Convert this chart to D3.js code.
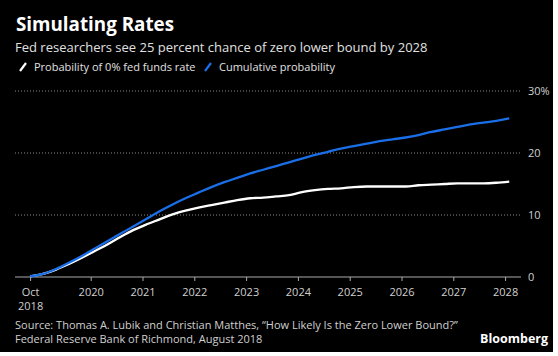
<!DOCTYPE html>
<html><head><meta charset="utf-8">
<script src="https://cdn.jsdelivr.net/npm/d3@7/dist/d3.min.js"></script>
<style>
html,body{margin:0;padding:0;background:#fff;}
svg{display:block;}
text{font-family:"Open Sans","Noto Sans",sans-serif;}
</style></head>
<body>
<svg id="chart" width="558" height="356"></svg>
<script>
// Quarterly points, starting Q4 2018 (fractional year)
const startYear = 2018.83;
const probZero = [0.1,0.5,1.2,2.1,3.1,4.2,5.3,6.5,7.6,8.5,9.3,10.1,10.7,11.2,11.6,12.0,12.4,12.7,12.8,13.0,13.2,13.7,14.0,14.2,14.3,14.5,14.6,14.6,14.6,14.6,14.8,14.9,15.0,15.1,15.1,15.1,15.2,15.4];
const cumulative = [0.1,0.5,1.3,2.3,3.4,4.6,5.8,7.0,8.2,9.4,10.6,11.7,12.7,13.6,14.5,15.3,16.0,16.7,17.3,17.9,18.5,19.1,19.7,20.2,20.7,21.1,21.5,21.9,22.2,22.5,22.9,23.4,23.8,24.2,24.6,24.9,25.2,25.6];
const xTickValues = [2018.83,2020,2021,2022,2023,2024,2025,2026,2027,2028];
const xTickLabels = [["Oct","2018"],["2020"],["2021"],["2022"],["2023"],["2024"],["2025"],["2026"],["2027"],["2028"]];
const yTickValues = [0,10,20,30];
const yTickLabels = ["0","10","20","30%"];
const seriesNames = ["Probability of 0% fed funds rate","Cumulative probability"];
const seriesColors = ["#ffffff","#1a6fe8"];

const svg = d3.select("#chart");
svg.append("rect").attr("x",0).attr("y",0).attr("width",553).attr("height",352).attr("fill","#000");

const x = d3.scaleLinear().domain([2020,2028]).range([90.7,505.1]);
const y = d3.scaleLinear().domain([0,30]).range([277,91]);
const left = 15, right = 521;

// gridlines
svg.append("g").selectAll("line").data(yTickValues.filter(v=>v>0)).join("line")
  .attr("x1",left).attr("x2",right).attr("y1",d=>y(d)).attr("y2",d=>y(d))
  .attr("stroke","#8a8a8a").attr("stroke-width",1).attr("stroke-dasharray","1,2");

// y labels
svg.append("g").selectAll("text").data(yTickValues).join("text")
  .attr("x",528).attr("y",d=>y(d)).attr("dy","0.35em")
  .attr("fill","#d0d0d0").attr("font-size",11).text((d,i)=>yTickLabels[i]);

// x axis
const xAxis = d3.axisBottom(x).tickValues(xTickValues).tickSize(4).tickFormat("");
const gx = svg.append("g").attr("transform",`translate(0,${y(0)})`).call(xAxis);
gx.select(".domain").remove();
gx.selectAll(".tick line").attr("stroke","#aaa");
svg.append("line").attr("x1",left).attr("x2",right).attr("y1",y(0)).attr("y2",y(0)).attr("stroke","#aaa").attr("stroke-width",1);
gx.selectAll(".tick").each(function(d,i){
  const t = d3.select(this).append("text").attr("fill","#d0d0d0").attr("font-size",11)
    .attr("text-anchor","middle").attr("y",19);
  xTickLabels[i].forEach((s,j)=>t.append("tspan").attr("x",0).attr("dy",j?14:0).text(s));
});

// lines
const pts = arr => arr.map((v,i)=>[startYear+0.25*i, v]);
const line = d3.line().x(d=>x(d[0])).y(d=>y(d[1])).curve(d3.curveMonotoneX);
[probZero,cumulative].forEach((arr,k)=>{
  svg.append("path").datum(pts(arr)).attr("d",line).attr("fill","none")
    .attr("stroke",seriesColors[k]).attr("stroke-width",2.3).attr("stroke-linejoin","round");
});

// title & subtitle
svg.append("text").attr("x",16).attr("y",31).attr("fill","#fff").attr("font-size",18.8).attr("font-weight","bold").text("Simulating Rates");
svg.append("text").attr("x",15).attr("y",52).attr("fill","#e0e0e0").attr("font-size",13).text("Fed researchers see 25 percent chance of zero lower bound by 2028");

// legend
const legX = [20,205];
seriesNames.forEach((n,k)=>{
  const g = svg.append("g").attr("transform",`translate(${legX[k]},67)`);
  g.append("line").attr("x1",0).attr("y1",4).attr("x2",6).attr("y2",-4).attr("stroke",seriesColors[k]).attr("stroke-width",2.2);
  g.append("text").attr("x",14).attr("y",4).attr("fill","#e0e0e0").attr("font-size",11).text(n);
});

// source
svg.append("text").attr("x",15).attr("y",329).attr("fill","#d0d0d0").attr("font-size",11).text("Source: Thomas A. Lubik and Christian Matthes, \u201cHow Likely Is the Zero Lower Bound?\u201d");
svg.append("text").attr("x",15).attr("y",343).attr("fill","#d0d0d0").attr("font-size",11).text("Federal Reserve Bank of Richmond, August 2018");
svg.append("text").attr("x",548).attr("y",343).attr("text-anchor","end").attr("fill","#fff").attr("font-size",12.5).attr("font-weight","bold").attr("font-family","Liberation Sans, Arial, sans-serif").text("Bloomberg");
</script>
</body></html>
